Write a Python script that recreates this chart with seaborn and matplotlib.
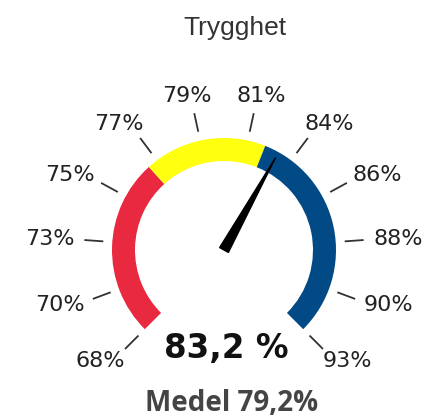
import numpy as np
import matplotlib
matplotlib.use('Agg')
import matplotlib.pyplot as plt
import seaborn as sns
sns.set_style('white')
plt.rcParams['font.family'] = ['DejaVu Sans']

# Data
title = "Trygghet"
value = 83.2
value_label = "83,2 %"
mean_label = "Medel 79,2%"
scale_min, scale_max = 68, 93
tick_labels = ["68%", "70%", "73%", "75%", "77%", "79%", "81%", "84%", "86%", "88%", "90%", "93%"]
band_edges = [68, 76.6, 82.5, 93]
band_colors = ['#e8293f', '#ffff10', '#024a86']

SWEEP = np.deg2rad(270)


def to_theta(v):
    # value -> angle, 0 at top, clockwise
    return (v - (scale_min + scale_max) / 2) / (scale_max - scale_min) * SWEEP


fig = plt.figure(figsize=(4.3, 4.17), dpi=100)
# polar axes, 1 data unit = 1 pixel, centre at (224, 250) px
ax = fig.add_axes([44 / 430, (167 - 180) / 417, 360 / 430, 360 / 417], projection='polar')
ax.set_theta_zero_location('N')
ax.set_theta_direction(-1)
ax.set_ylim(0, 180)
ax.axis('off')

# colour bands
for lo, hi, c in zip(band_edges[:-1], band_edges[1:], band_colors):
    ax.bar(to_theta(lo), 23, width=to_theta(hi) - to_theta(lo), bottom=89,
           align='edge', color=c, edgecolor='none', linewidth=0)

# ticks + labels
tick_theta = to_theta(np.linspace(scale_min, scale_max, len(tick_labels)))
for t, lbl in zip(tick_theta, tick_labels):
    ax.plot([t, t], [121, 140], color='#333333', lw=1.3, solid_capstyle='butt')
    ax.annotate(lbl, xy=(t, 149), xytext=(26 * np.sin(t), 8.5 * np.cos(t)),
                textcoords='offset pixels', ha='center', va='center',
                fontsize=16, color='#222222')

# needle
tn = to_theta(value)
ax.fill([tn + np.pi / 2, tn, tn - np.pi / 2], [5, 106, 5], color='black', zorder=5)

fig.text(235 / 430, 1 - 35 / 417, title, ha='center', va='baseline',
         fontsize=19, color='#333333', family=['Liberation Sans'])
fig.text(226 / 430, 1 - 358 / 417, value_label, ha='center', va='baseline',
         fontsize=23.5, fontweight='bold', color='#111111')
fig.text(232 / 430, 1 - 411 / 417, mean_label, ha='center', va='baseline',
         fontsize=20, fontweight='bold', color='#444444', family=['Open Sans'])

fig.savefig('out.png', dpi=100)
